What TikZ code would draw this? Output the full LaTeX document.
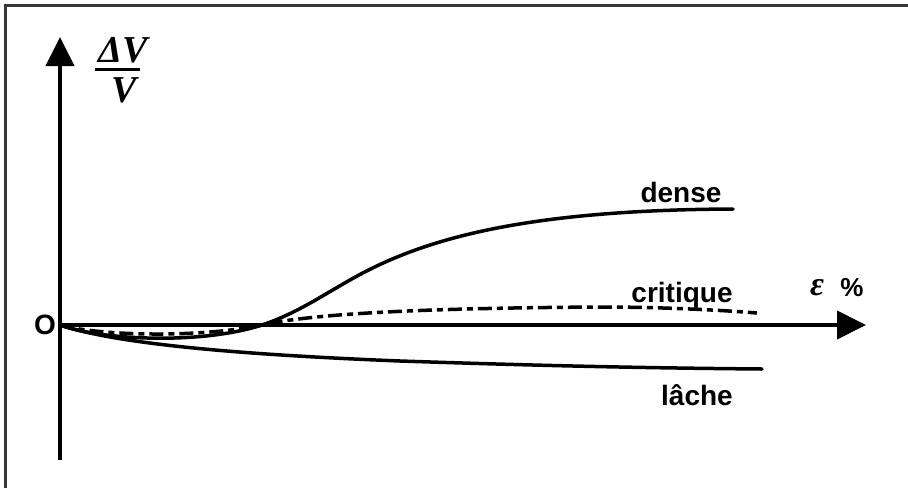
\documentclass[tikz,border=0pt]{standalone}
\usepackage{fontspec}
\setmainfont{Liberation Sans}
\newfontfamily\timesf{Liberation Serif}
\usetikzlibrary{arrows.meta}
\definecolor{framegray}{RGB}{55,55,55}
\tikzset{
  curve/.style={line width=3.5pt, line cap=round, line join=round},
  axisline/.style={line width=4pt, -{Triangle[length=29pt,width=28pt]}},
  lbl/.style={font=\fontsize{28}{30}\selectfont\bfseries, inner sep=0pt, anchor=base},
  fracl/.style={font=\timesf\fontsize{38}{40}\selectfont\bfseries\itshape, inner sep=0pt, anchor=base},
}
\begin{document}
\begin{tikzpicture}[x=1pt,y=-1pt]
\useasboundingbox (0,0) rectangle (908,488);
\fill[white] (0,0) rectangle (908,488);
% frame (top and left)
\draw[framegray, line width=2.5pt] (5.5,488) -- (5.5,5.5) -- (908,5.5);
% axes
\coordinate (O) at (60,325);
\coordinate (xend) at (866,325);
\coordinate (ybot) at (60,460);
\coordinate (yend) at (60,37);
\draw[axisline] (O) -- (xend);
\draw[axisline] (ybot) -- (yend);
% curves
\draw[curve] (O) .. controls (100,340) and (200,345) .. (262,325)
  .. controls (295,314) and (320,297) .. (350,280)
  .. controls (420,240) and (520,210) .. (733,209);
\draw[curve, line cap=butt, dash pattern=on 14pt off 5pt on 6pt off 5pt]
  (O) .. controls (100,336) and (200,338) .. (262,325)
  .. controls (320,312) and (450,308) .. (600,307)
  .. controls (660,307) and (720,310) .. (757,313);
\draw[curve] (O) .. controls (120,345) and (250,355) .. (400,361)
  .. controls (550,366) and (650,368) .. (762,369);
% labels
\node[lbl] (o) at (45,334) {O};
\node[lbl] (dense) at (681,202) {dense};
\node[lbl] (critique) at (682,302) {critique};
\node[lbl] (lache) at (697,405) {lâche};
\node[font=\timesf\fontsize{34}{36}\selectfont\bfseries\itshape, inner sep=0pt, anchor=base] (eps) at (817,295) {ε};
\node[font=\fontsize{26}{28}\selectfont\bfseries, inner sep=0pt, anchor=base] (pct) at (852,296) {\%};
\node[fracl] (num) at (123,62) {ΔV};
\node[fracl] (den) at (124,102) {V};
\draw[line width=3pt] (95,69) -- (140,69);
\end{tikzpicture}
\end{document}
